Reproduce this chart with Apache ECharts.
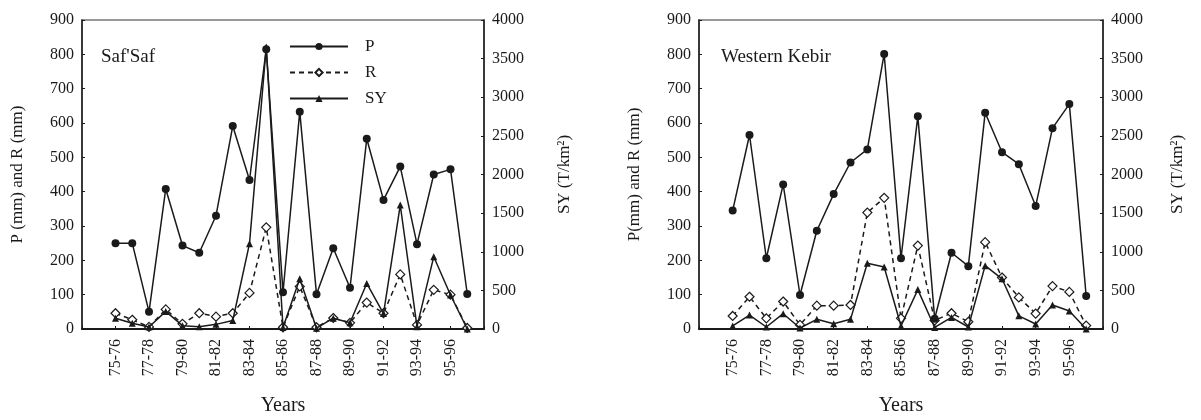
<!DOCTYPE html>
<html>
<head>
<meta charset="utf-8">
<script src="https://cdn.jsdelivr.net/npm/echarts@6/dist/echarts.min.js"></script>
<style>
  html, body { margin: 0; padding: 0; background: #fff; }
  #chart { width: 1201px; height: 420px; }
</style>
</head>
<body>
<div id="chart"></div>
<script>
// hydrological years, one point per year
const years = ['75-76', '76-77', '77-78', '78-79', '79-80', '80-81', '81-82', '82-83',
  '83-84', '84-85', '85-86', '86-87', '87-88', '88-89', '89-90', '90-91', '91-92',
  '92-93', '93-94', '94-95', '95-96', '96-97'];

// Saf Saf
const pSaf = [250, 250, 50, 408, 243, 222, 330, 591, 434, 815, 107, 633, 101, 235, 120, 554, 376, 473, 247, 450, 465, 102];
const rSaf = [46, 27, 6, 57, 15, 46, 36, 46, 105, 296, 5, 124, 5, 32, 18, 77, 46, 159, 12, 114, 100, 3];
const sySaf = [140, 74, 25, 228, 43, 30, 60, 110, 1105, 3650, 20, 650, 10, 140, 80, 590, 200, 1605, 30, 936, 440, 0];

// Western Kebir
const pKeb = [345, 565, 206, 421, 99, 286, 393, 485, 523, 801, 206, 620, 30, 222, 183, 630, 515, 480, 358, 585, 655, 96];
const rKeb = [38, 94, 31, 80, 12, 68, 68, 70, 339, 382, 31, 243, 25, 46, 21, 253, 150, 92, 45, 125, 108, 10];
const syKeb = [40, 181, 26, 198, 13, 125, 69, 125, 850, 802, 39, 510, 20, 150, 26, 820, 650, 170, 65, 310, 233, 0];

const leftTicks = { min: 0, max: 900, interval: 100 };
const rightTicks = { min: 0, max: 4000, interval: 500 };

const FONT = 'Liberation Serif';
const INK = '#1a1a1a';

const pairs = (arr) => arr.map((v, i) => [i, v]);

const xAxisFor = (gridIndex) => ({
  type: 'value',
  gridIndex,
  min: -2,
  max: 22,
  interval: 2,
  name: 'Years',
  nameLocation: 'middle',
  nameGap: 67,
  nameTextStyle: { fontFamily: FONT, fontSize: 20, color: INK },
  axisLine: { onZero: false, lineStyle: { color: INK, width: 2 } },
  axisTick: { inside: true, length: 3, lineStyle: { color: INK } },
  splitLine: { show: false },
  axisLabel: {
    rotate: 90,
    margin: 10,
    fontFamily: FONT,
    fontSize: 16,
    color: INK,
    formatter: (v) => years[v] || '',
  },
});

const yLeftFor = (gridIndex, name) => ({
  type: 'value',
  gridIndex,
  position: 'left',
  ...leftTicks,
  name,
  nameLocation: 'middle',
  nameGap: 56,
  nameRotate: 90,
  nameTextStyle: { fontFamily: FONT, fontSize: 17, color: INK },
  axisLine: { show: true, onZero: false, lineStyle: { color: INK, width: 1.5 } },
  axisTick: { show: true, inside: true, length: 3, lineStyle: { color: INK } },
  splitLine: { show: false },
  axisLabel: { fontFamily: FONT, fontSize: 16, color: INK, margin: 8 },
});

const yRightFor = (gridIndex, nameGap) => ({
  type: 'value',
  gridIndex,
  position: 'right',
  ...rightTicks,
  name: 'SY (T/km²)',
  nameLocation: 'middle',
  nameGap,
  nameRotate: 90,
  nameTextStyle: { fontFamily: FONT, fontSize: 17, color: INK },
  axisLine: { show: true, onZero: false, lineStyle: { color: INK, width: 1.5 } },
  axisTick: { show: true, inside: true, length: 3, lineStyle: { color: INK } },
  splitLine: { show: false },
  axisLabel: { fontFamily: FONT, fontSize: 16, color: INK, margin: 8, formatter: (v) => String(v) },
});

const makeSeries = (gridIdx, p, r, sy) => [
  {
    name: 'P',
    type: 'line',
    xAxisIndex: gridIdx,
    yAxisIndex: gridIdx * 2,
    data: pairs(p),
    symbol: 'circle',
    symbolSize: 8,
    itemStyle: { color: INK },
    lineStyle: { color: INK, width: 1.5 },
    z: 4,
  },
  {
    name: 'R',
    type: 'line',
    xAxisIndex: gridIdx,
    yAxisIndex: gridIdx * 2,
    data: pairs(r),
    symbol: 'diamond',
    symbolSize: 9,
    itemStyle: { color: '#fff', borderColor: INK, borderWidth: 1.2 },
    lineStyle: { color: INK, width: 1.5, type: [5, 4] },
    z: 3,
  },
  {
    name: 'SY',
    type: 'line',
    xAxisIndex: gridIdx,
    yAxisIndex: gridIdx * 2 + 1,
    data: pairs(sy),
    symbol: 'triangle',
    symbolSize: 7,
    itemStyle: { color: INK },
    lineStyle: { color: INK, width: 1.5 },
    z: 5,
  },
];

const chart = echarts.init(document.getElementById('chart'));

chart.setOption({
  animation: false,
  backgroundColor: '#fff',
  title: [
    { text: "Saf'Saf", left: 96, top: 43, textStyle: { fontFamily: FONT, fontSize: 19, fontWeight: 'normal', color: INK } },
    { text: 'Western Kebir', left: 716, top: 43, textStyle: { fontFamily: FONT, fontSize: 19, fontWeight: 'normal', color: INK } },
  ],
  legend: {
    orient: 'vertical',
    left: 284,
    top: 33,
    itemWidth: 58,
    itemHeight: 9,
    itemGap: 9,
    data: ['P', 'R', 'SY'],
    textStyle: { fontFamily: FONT, fontSize: 17, color: INK, padding: [0, 0, 0, 12] },
  },
  grid: [
    { left: 82, right: 717, top: 20, bottom: 91, outerBoundsMode: 'none', containLabel: false, show: true, borderColor: '#777', borderWidth: 1.5 },
    { left: 699, right: 98, top: 20, bottom: 91, outerBoundsMode: 'none', containLabel: false, show: true, borderColor: '#777', borderWidth: 1.5 },
  ],
  xAxis: [xAxisFor(0), xAxisFor(1)],
  yAxis: [
    yLeftFor(0, 'P (mm) and R (mm)'),
    yRightFor(0, 72),
    yLeftFor(1, 'P(mm) and R (mm)'),
    yRightFor(1, 66),
  ],
  series: [
    ...makeSeries(0, pSaf, rSaf, sySaf),
    ...makeSeries(1, pKeb, rKeb, syKeb),
  ],
});
</script>
</body>
</html>
